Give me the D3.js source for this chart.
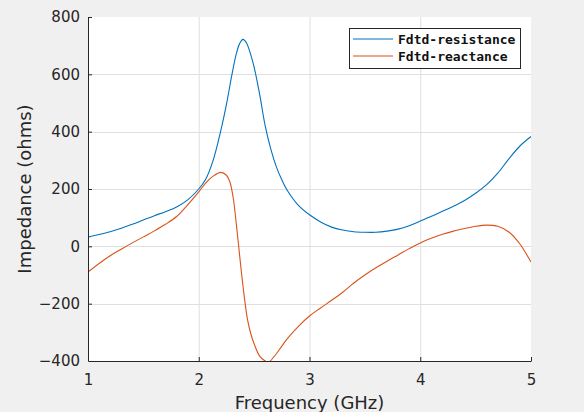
<!DOCTYPE html>
<html>
<head>
<meta charset="utf-8">
<script src="https://cdn.jsdelivr.net/npm/d3@7"></script>
<style>
  html, body { margin: 0; padding: 0; background: #f0f0f0; }
  svg { display: block; }
</style>
</head>
<body>
<svg id="chart" width="584" height="412"></svg>
<script>
// ---- data ----
const freqR = [1.0, 1.1, 1.2, 1.3, 1.4, 1.5, 1.6, 1.7, 1.8, 1.9, 2.0, 2.06, 2.13, 2.2, 2.25, 2.3, 2.34, 2.37, 2.4, 2.43, 2.47, 2.5, 2.55, 2.6, 2.65, 2.7, 2.75, 2.8, 2.9, 3.0, 3.1, 3.2, 3.3, 3.4, 3.5, 3.6, 3.7, 3.8, 3.9, 4.0, 4.1, 4.2, 4.3, 4.4, 4.5, 4.6, 4.7, 4.8, 4.9, 5.0];
const resistance = [32, 41, 51, 63, 77, 92, 107, 121, 137, 162, 200, 232, 300, 405, 495, 600, 673, 708, 722, 710, 668, 625, 530, 420, 340, 278, 232, 195, 143, 110, 85, 67, 57, 51, 49, 49, 53, 60, 72, 88, 105, 122, 140, 160, 185, 215, 255, 305, 350, 383];

const freqX = [1.0, 1.1, 1.2, 1.3, 1.4, 1.5, 1.6, 1.7, 1.8, 1.9, 2.0, 2.06, 2.13, 2.2, 2.25, 2.28, 2.31, 2.34, 2.37, 2.4, 2.44, 2.47, 2.5, 2.55, 2.6, 2.63, 2.68, 2.75, 2.8, 2.9, 3.0, 3.1, 3.2, 3.3, 3.4, 3.5, 3.6, 3.7, 3.8, 3.9, 4.0, 4.1, 4.2, 4.3, 4.4, 4.5, 4.6, 4.7, 4.8, 4.9, 5.0];
const reactance = [-90, -60, -33, -10, 12, 33, 54, 77, 104, 145, 190, 220, 245, 258, 248, 226, 172, 75, -35, -140, -255, -305, -340, -383, -400, -404, -385, -348, -322, -279, -243, -215, -188, -160, -128, -100, -75, -52, -30, -8, 12, 28, 42, 53, 62, 70, 74, 70, 50, 8, -55];

const xTicks = [1, 2, 3, 4, 5];
const yTicks = [-400, -200, 0, 200, 400, 600, 800];
const seriesNames = ["Fdtd-resistance", "Fdtd-reactance"];
const seriesColors = ["#0072BD", "#D95319"];

// ---- layout ----
const svg = d3.select("#chart");
const L = 88, R = 531, T = 17, B = 361;

const x = d3.scaleLinear().domain([1, 5]).range([L, R]);
const y = d3.scaleLinear().domain([-400, 800]).range([B, T]);

// plot background
svg.append("rect").attr("x", L).attr("y", T).attr("width", R - L).attr("height", B - T).attr("fill", "#ffffff");

// grid
const grid = svg.append("g").attr("stroke", "#dfdfdf").attr("stroke-width", 1);
xTicks.slice(1, -1).forEach(t => {
  grid.append("line").attr("x1", x(t) + 0.5).attr("x2", x(t) + 0.5).attr("y1", T).attr("y2", B);
});
yTicks.slice(1, -1).forEach(t => {
  grid.append("line").attr("x1", L).attr("x2", R).attr("y1", Math.round(y(t)) + 0.5).attr("y2", Math.round(y(t)) + 0.5);
});

// clip
svg.append("clipPath").attr("id", "clip").append("rect")
  .attr("x", L).attr("y", T).attr("width", R - L).attr("height", B - T);

const line = d3.line().x(d => x(d[0])).y(d => y(d[1])).curve(d3.curveCatmullRom.alpha(0.5));

const dataR = freqR.map((f, i) => [f, resistance[i]]);
const dataX = freqX.map((f, i) => [f, reactance[i]]);

svg.append("path").datum(dataR).attr("d", line).attr("fill", "none")
  .attr("stroke", seriesColors[0]).attr("stroke-width", 1.1).attr("clip-path", "url(#clip)");
svg.append("path").datum(dataX).attr("d", line).attr("fill", "none")
  .attr("stroke", seriesColors[1]).attr("stroke-width", 1.1).attr("clip-path", "url(#clip)");

// axes
const tickFont = "'DejaVu Sans', sans-serif";
const xAxis = d3.axisBottom(x).tickValues(xTicks).tickSizeInner(-4).tickSizeOuter(0).tickPadding(13).tickFormat(d3.format("d"));
const yAxis = d3.axisLeft(y).tickValues(yTicks).tickSizeInner(-4).tickSizeOuter(0).tickPadding(8).tickFormat(d3.format("d"));

const gx = svg.append("g").attr("transform", `translate(0,${B})`).call(xAxis);
const gy = svg.append("g").attr("transform", `translate(${L},0)`).call(yAxis);
[gx, gy].forEach(g => {
  g.select(".domain").attr("stroke", "#262626");
  g.selectAll(".tick line").attr("stroke", "#262626");
  g.selectAll(".tick text").attr("fill", "#262626").style("font-family", tickFont).style("font-size", "15px");
});
gy.selectAll(".tick text").text(d => d < 0 ? "\u2212" + Math.abs(d) : d);
gx.selectAll(".tick line").filter(d => d === 1).remove();
gy.selectAll(".tick line").filter(d => d === -400).remove();

// axis labels
svg.append("text").attr("x", (L + R) / 2).attr("y", 409).attr("text-anchor", "middle")
  .attr("fill", "#262626").style("font-family", tickFont).style("font-size", "18px").text("Frequency (GHz)");
svg.append("text").attr("transform", `translate(31,${(T + B) / 2}) rotate(-90)`).attr("text-anchor", "middle")
  .attr("fill", "#262626").style("font-family", tickFont).style("font-size", "18px").text("Impedance (ohms)");

// legend
const lg = svg.append("g");
lg.append("rect").attr("x", 349.5).attr("y", 28.5).attr("width", 171).attr("height", 40)
  .attr("fill", "#ffffff").attr("stroke", "#262626").attr("stroke-width", 1);
seriesNames.forEach((name, i) => {
  const cy = 39 + i * 17;
  lg.append("line").attr("x1", 353).attr("x2", 393).attr("y1", cy).attr("y2", cy)
    .attr("stroke", seriesColors[i]).attr("stroke-width", 1.1);
  lg.append("text").attr("x", 398).attr("y", cy + 5).attr("fill", "#111")
    .style("font-family", "'DejaVu Sans Mono', monospace").style("font-size", "13px").style("font-weight", "bold")
    .text(name);
});
</script>
</body>
</html>
